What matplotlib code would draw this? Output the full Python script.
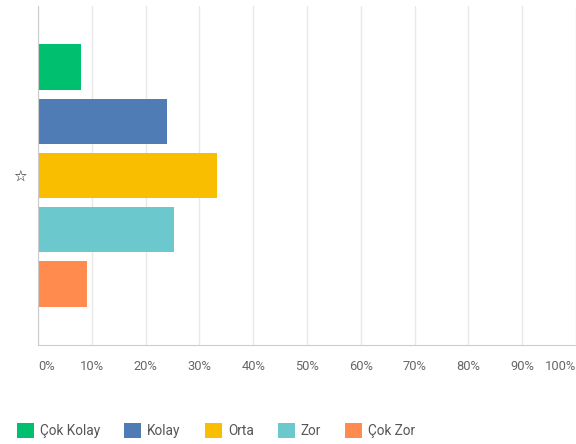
import matplotlib.pyplot as plt
from matplotlib.patches import Patch

# survey answer shares, percent
categories = ['Çok Kolay', 'Kolay', 'Orta', 'Zor', 'Çok Zor']
values = [7.9, 24.0, 33.3, 25.3, 9.1]
colors = ['#00BF6F', '#507CB6', '#F9BE00', '#6BC8CD', '#FF8B4F']
xticks = [0, 10, 20, 30, 40, 50, 60, 70, 80, 90, 100]
xtick_labels = ['{}%'.format(t) for t in xticks]
row_label = '☆'

fig = plt.figure(figsize=(5.76, 4.44), dpi=100)
ax = fig.add_axes([38 / 576, 1 - 345 / 444, 538 / 576, 339 / 444])

step = 0.16
height = 0.133
for i, (val, col) in enumerate(zip(values, colors)):
    ax.barh((i - 2) * step, val, height=height, color=col, zorder=2)

ax.set_xlim(0, 100)
ax.set_ylim(0.5, -0.5)

ax.set_xticks(xticks)
ax.set_xticklabels(xtick_labels, fontsize=9.3, color='#666666', family='Roboto')
ax.tick_params(axis='x', length=0, pad=11)
labels = ax.get_xticklabels()
labels[0].set_ha('left')
labels[-1].set_ha('right')

ax.set_yticks([0])
ax.set_yticklabels([row_label], fontsize=11, color='#1a1a1a', family='DejaVu Sans')
ax.tick_params(axis='y', length=0, pad=8)

ax.grid(axis='x', color='#e8e8e8', linewidth=1, zorder=0)
ax.set_axisbelow(True)
for side in ['top', 'right']:
    ax.spines[side].set_visible(False)
ax.spines['left'].set_color('#cccccc')
ax.spines['bottom'].set_color('#cccccc')

handles = [Patch(facecolor=c, edgecolor='none') for c in colors]
leg = fig.legend(handles, categories, loc='lower left', bbox_to_anchor=(0.013, -0.008),
                 ncol=5, frameon=False, handlelength=1.25, handleheight=1.3,
                 handletextpad=0.45, columnspacing=1.75, borderaxespad=0.3,
                 prop={'family': 'Roboto', 'size': 9.8})
for t in leg.get_texts():
    t.set_color('#555555')

fig.savefig('out.png', dpi=100)
